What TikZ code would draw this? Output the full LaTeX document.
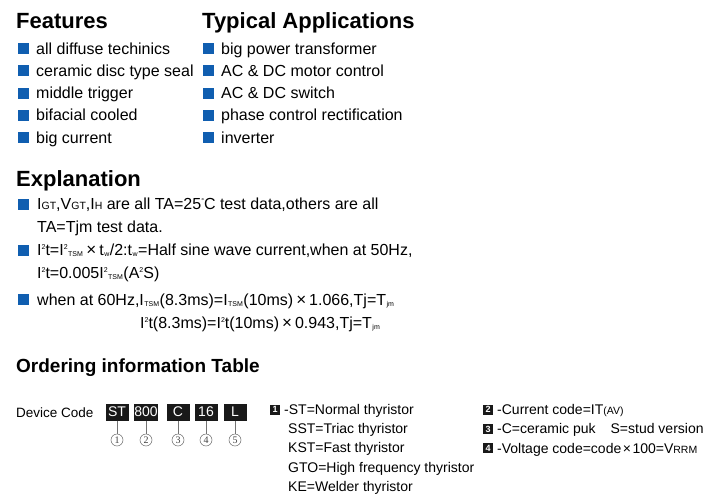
\documentclass[tikz,border=0pt]{standalone}
\usepackage{fontspec}
\setmainfont{Liberation Sans}
\newfontfamily\numfont{Liberation Serif}
\usetikzlibrary{positioning}
\definecolor{bulletblue}{RGB}{16,94,176}
\newcommand{\hisup}[1]{\raisebox{5.5pt}{\fontsize{7}{7}\selectfont #1}}
\newcommand{\losub}[1]{\raisebox{-1.5pt}{\fontsize{7}{7}\selectfont\kern.5pt #1\kern.5pt}}
\newcommand{\capsub}[1]{{\fontsize{10.5}{10}\selectfont #1}}
\newcommand{\tms}{{\fontsize{17}{17}\selectfont\kern3pt×\kern3pt}}
\newcommand{\otms}{\kern1.5pt×\kern1.5pt}
\tikzset{
  head/.style={anchor=base west,inner sep=0,font=\bfseries\fontsize{22}{26}\selectfont},
  subhead/.style={head,font=\bfseries\fontsize{19}{22}\selectfont},
  item/.style={anchor=base west,inner sep=0,font=\fontsize{16}{19}\selectfont},
  expl/.style={anchor=base west,inner sep=0,font=\fontsize{16}{19}\selectfont},
  order/.style={anchor=base west,inner sep=0,font=\fontsize{14}{17}\selectfont},
  bullet/.style={fill=bulletblue,inner sep=0,minimum size=11},
  codebox/.style={fill=black!90,text=white,inner sep=0,minimum width=23,minimum height=17,font=\fontsize{14}{17}\selectfont},
  numbox/.style={fill=black!90,text=white,inner sep=0,minimum size=10,font=\bfseries\fontsize{9}{9}\selectfont},
  numcirc/.style={circle,draw=black!60,line width=.5,inner sep=0,minimum size=12,text=black!75,font=\numfont\fontsize{10}{10}\selectfont},
  link/.style={draw=black!55,line width=.6}
}
\begin{document}
\begin{tikzpicture}[x=1pt,y=-1pt]
\useasboundingbox (0,0) rectangle (714,498);
% headings
\node[head] (feathead) at (16,28) {Features};
\node[head] (apphead) at (202,28) {Typical Applications};
\node[head] (explhead) at (16,186) {Explanation};
\node[subhead] (orderhead) at (16,372) {Ordering information Table};
% features and applications
\foreach \txt [count=\i] in {all diffuse techinics,ceramic disc type seal,middle trigger,bifacial cooled,big current}{
  \node[bullet] (fb\i) at (23.5,{48.5+(\i-1)*22.3}) {};
  \node[item] (feat\i) at (36,{54+(\i-1)*22.3}) {\txt};
}
\foreach \txt [count=\i] in {big power transformer,{AC \& DC motor control},{AC \& DC switch},phase control rectification,inverter}{
  \node[bullet] (ab\i) at (208.5,{48.5+(\i-1)*22.3}) {};
  \node[item] (app\i) at (221,{54+(\i-1)*22.3}) {\txt};
}
% explanation
\node[bullet] (eb1) at (23.5,204) {};
\node[expl] (expl1) at (37,209) {I\capsub{GT},V\capsub{GT},I\capsub{H} are all TA=25\hisup{°}C test data,others are all};
\node[expl] (expl1b) at (37,232) {TA=Tjm test data.};
\node[bullet] (eb2) at (23.5,250) {};
\node[expl] (expl2) at (37,255) {I\hisup{2}t=I\hisup{2}\losub{TSM}\tms t\losub{w}/2:t\losub{w}=Half sine wave current,when at 50Hz,};
\node[expl] (expl2b) at (37,278) {I\hisup{2}t=0.005I\hisup{2}\losub{TSM}(A\hisup{2}S)};
\node[bullet] (eb3) at (23.5,299) {};
\node[expl] (expl3) at (37,305) {when at 60Hz,I\losub{TSM}(8.3ms)=I\losub{TSM}(10ms)\tms 1.066,Tj=T\losub{jm}};
\node[expl] (expl3b) at (140,328) {I\hisup{2}t(8.3ms)=I\hisup{2}t(10ms)\tms 0.943,Tj=T\losub{jm}};
% device code
\node[anchor=base west,inner sep=0,font=\fontsize{13.5}{16}\selectfont] (devcode) at (16,417) {Device Code};
\foreach \txt/\xx [count=\i] in {ST/117,800/146,C/178,16/206,L/235}{
  \node[codebox] (code\i) at (\xx,412) {\txt};
  \node[numcirc] (circ\i) at (\xx,440) {\i};
  \draw[link] (code\i) -- (circ\i);
}
% legend
\node[numbox] (key1) at (275,409.5) {1};
\node[order] (st) at (284,414) {-ST=Normal thyristor};
\node[order] (sst) at (288,433) {SST=Triac thyristor};
\node[order] (kst) at (288,452) {KST=Fast thyristor};
\node[order] (gto) at (288,472) {GTO=High frequency thyristor};
\node[order] (ke) at (288,491) {KE=Welder thyristor};
\node[numbox] (key2) at (488,409.5) {2};
\node[order] (curr) at (497,414) {-Current code=IT\capsub{(AV)}};
\node[numbox] (key3) at (488,429) {3};
\node[order] (ceram) at (497,433) {-C=ceramic puk\hspace{15pt}S=stud version};
\node[numbox] (key4) at (488,448) {4};
\node[order] (volt) at (497,453) {-Voltage code=code\otms 100=V\capsub{RRM}};
\end{tikzpicture}
\end{document}
